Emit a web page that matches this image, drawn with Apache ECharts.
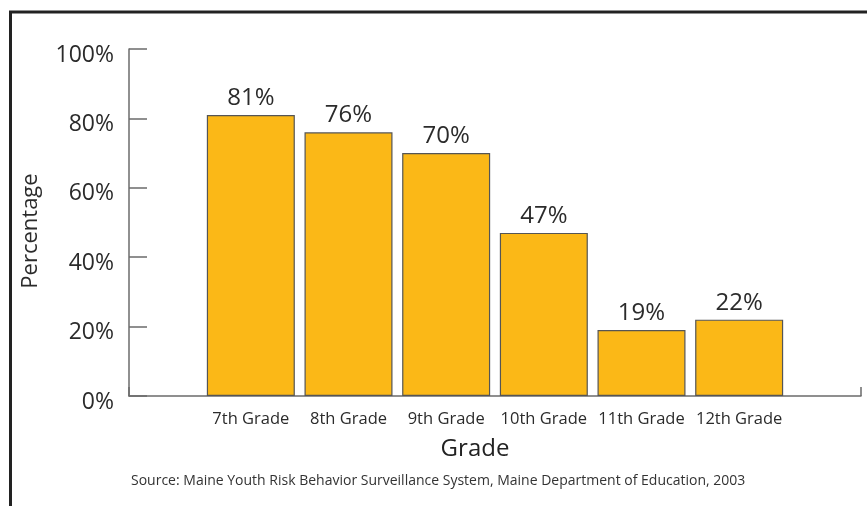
<!DOCTYPE html>
<html>
<head>
<meta charset="utf-8">
<script src="https://cdn.jsdelivr.net/npm/echarts@6/dist/echarts.min.js"></script>
<style>
html,body{margin:0;padding:0;background:#fff;}
#chart{width:867px;height:506px;}
</style>
</head>
<body>
<div id="chart"></div>
<script>
const categories = ['7th Grade', '8th Grade', '9th Grade', '10th Grade', '11th Grade', '12th Grade'];
const values = [81, 76, 70, 47, 19, 22];
const yTickValues = [0, 20, 40, 60, 80, 100];
const xTitle = 'Grade';
const yTitle = 'Percentage';
const sourceText = 'Source: Maine Youth Risk Behavior Surveillance System, Maine Department of Education, 2003';

const FONT = '"Open Sans", "Noto Sans", sans-serif';
const TXT = '#2b2b2b';
const AX = '#6b6b6b';

const chart = echarts.init(document.getElementById('chart'), null, {renderer: 'canvas'});
chart.setOption({
  animation: false,
  backgroundColor: '#fff',
  textStyle: {fontFamily: FONT},
  grid: [
    {left: 202, right: 79, top: 49, bottom: 110},
    {left: 129, right: 6, top: 49, bottom: 110}
  ],
  xAxis: [
    {
      gridIndex: 0, type: 'category', data: categories,
      axisLine: {show: false}, axisTick: {show: false},
      axisLabel: {interval: 0, fontSize: 16.5, color: TXT, margin: 15, fontFamily: FONT}
    },
    {
      gridIndex: 1, type: 'value', min: 0, max: 1, interval: 1,
      axisLine: {show: true, lineStyle: {color: AX, width: 1.5}},
      axisTick: {show: true, inside: true, length: 9, lineStyle: {color: AX, width: 1.5}},
      axisLabel: {show: false}, splitLine: {show: false}
    }
  ],
  yAxis: [
    {
      gridIndex: 0, type: 'value', min: 0, max: 100, interval: 20, show: false
    },
    {
      gridIndex: 1, type: 'value', min: 0, max: 100, interval: 20,
      axisLine: {show: true, lineStyle: {color: AX, width: 1.5}},
      axisTick: {show: true, inside: true, length: 18, lineStyle: {color: AX, width: 1.5}},
      splitLine: {show: false},
      axisLabel: {
        fontSize: 23, color: TXT, margin: 15, fontFamily: FONT,
        verticalAlign: 'top', lineHeight: 12,
        formatter: v => yTickValues.includes(v) ? v + '%' : ''
      }
    }
  ],
  series: [{
    type: 'bar', xAxisIndex: 0, yAxisIndex: 0,
    data: values, barWidth: 88,
    itemStyle: {color: '#FBB817', borderColor: '#555', borderWidth: 1.2},
    label: {
      show: true, position: 'top', distance: 5,
      fontSize: 24, color: TXT, fontFamily: FONT,
      formatter: p => p.value + '%'
    }
  }],
  graphic: [
    {type: 'line', shape: {x1: 9, y1: 12, x2: 867, y2: 12}, style: {stroke: '#222', lineWidth: 3}},
    {type: 'line', shape: {x1: 10.5, y1: 11, x2: 10.5, y2: 506}, style: {stroke: '#222', lineWidth: 3}},
    {type: 'text', x: 31, y: 231, rotation: Math.PI / 2, style: {text: yTitle, fontSize: 22, fontFamily: FONT, fill: TXT, align: 'center', verticalAlign: 'middle'}},
    {type: 'text', x: 475, y: 449, style: {text: xTitle, fontSize: 24, fontWeight: 500, fontFamily: FONT, fill: '#222', align: 'center', verticalAlign: 'middle'}},
    {type: 'text', x: 131, y: 481, style: {text: sourceText, fontSize: 14, fontFamily: FONT, fill: '#333', align: 'left', verticalAlign: 'middle'}}
  ]
});
</script>
</body>
</html>
